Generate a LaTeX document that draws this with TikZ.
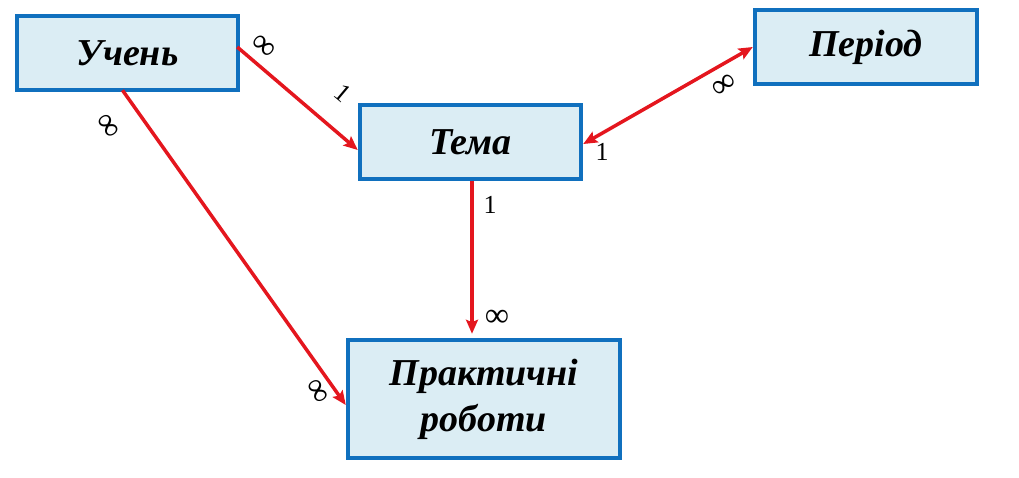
\documentclass[tikz,border=0pt]{standalone}
\usepackage{fontspec}
\setmainfont{Liberation Serif}
\usetikzlibrary{arrows.meta,calc}
\definecolor{boxfill}{RGB}{219,237,244}
\definecolor{boxline}{RGB}{16,112,190}
\definecolor{linkred}{RGB}{228,22,30}
\tikzset{
  entity/.style={draw=boxline,fill=boxfill,line width=4.5pt,minimum width=221pt,minimum height=74pt,
    inner sep=0pt,align=center,font=\fontsize{38}{46}\selectfont\bfseries\itshape},
  tip/.tip={Stealth[length=14pt,width=12pt,inset=2.5pt]},
  link/.style={draw=linkred,line width=3.5pt,-tip},
  card/.style={inner sep=0pt,font=\fontsize{26}{28}\selectfont},
  inf/.style={inner sep=0pt,font=\fontsize{34}{36}\selectfont}
}
\begin{document}
\begin{tikzpicture}[x=1pt,y=-1pt]
\useasboundingbox (0,0) rectangle (1019,477);
\node[entity] (uchen) at (127.5,53) {Учень};
\node[entity] (tema) at (470.5,142) {Тема};
\node[entity,minimum width=222pt] (period) at (866,47) {Період};
\node[entity,minimum width=272pt,minimum height=118pt] (prakt) at (484,399) {Практичні\\роботи};

\draw[link] ([yshift=6pt,xshift=-3pt]uchen.east) -- ([yshift=-8pt]tema.west);
\draw[link] ([xshift=-5pt,yshift=2pt]uchen.south) -- ([yshift=-6pt]prakt.west);
\draw[link,tip-tip] ([yshift=-2pt]tema.east) -- (period.west);
\draw[link,shorten >=4pt] ([xshift=1.5pt]tema.south) -- ([xshift=1.5pt]tema.south |- prakt.north);

\node[inf,rotate=-40] (c1) at (263,47) {∞};
\node[card,rotate=-40] (c2) at (343,93) {1};
\node[inf,rotate=-55] (c3) at (107,127) {∞};
\node[inf,rotate=-60] (c4) at (317,392) {∞};
\node[inf,rotate=35] (c5) at (725,86) {∞};
\node[card] (c6) at (602,152) {1};
\node[card] (c7) at (490,205) {1};
\node[inf] (c8) at (497,318) {∞};
\end{tikzpicture}
\end{document}
